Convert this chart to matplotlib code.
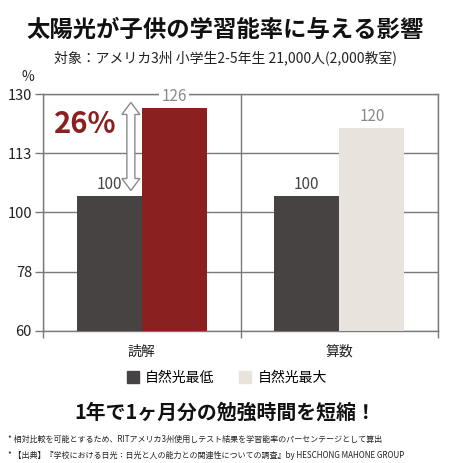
import numpy as np
import matplotlib
matplotlib.use("Agg")
from matplotlib import pyplot as plt
from matplotlib.patches import Polygon
from matplotlib.lines import Line2D

plt.rcParams['font.family'] = ['Noto Sans CJK JP', 'DejaVu Sans']

# data
categories = ["読解", "算数"]
series_names = ["自然光最低", "自然光最大"]
low_values = [100, 100]
high_values = [126, 120]
ytick_labels = ["60", "78", "100", "113", "130"]

dark = "#474343"
red = "#8a2020"
beige = "#e8e4dd"
grid_c = "#7a7a7a"

fig = plt.figure(figsize=(4.51, 4.63), dpi=100)
ax = fig.add_axes([43/451, 1-331/463, 395/451, 237/463])

x = np.arange(len(categories))
w = 0.33
ax.bar(x - w/2, low_values, w, color=dark, zorder=3)
ax.bar(x + w/2, high_values, w, color=[red, beige], zorder=3)

ax.set_ylim(60, 130)
ax.set_xlim(-0.5, 1.5)
ax.set_yticks(np.linspace(60, 130, 5))
ax.set_yticklabels(ytick_labels, fontsize=10.5, color="#222222")
ax.set_xticks(x)
ax.set_xticklabels(categories, fontsize=10, color="#222222")
ax.set_xticks([-0.5, 0.5, 1.5], minor=True)
ax.tick_params(axis="x", which="major", length=0, pad=10)
ax.tick_params(axis="x", which="minor", length=5, color=grid_c, width=1)
ax.tick_params(axis="y", length=6, color=grid_c, width=1, pad=2)
ax.grid(axis="y", color=grid_c, linewidth=1, zorder=1)
ax.grid(axis="x", which="minor", color=grid_c, linewidth=1, zorder=1)
for s in ax.spines.values():
    s.set_color(grid_c)
    s.set_linewidth(1)

# value labels
for xi, v in zip(x, low_values):
    ax.annotate(str(v), (xi - w/2, v), xytext=(0, 2), textcoords="offset points",
                ha="center", va="bottom", fontsize=11, color="#444444", zorder=5)
for xi, v in zip(x, high_values):
    ax.annotate(str(v), (xi + w/2, v), xytext=(0, 2), textcoords="offset points",
                ha="center", va="bottom", fontsize=11, color="#8a8a8a", zorder=5,
                bbox=dict(boxstyle="square,pad=0.15", fc="white", ec="none"))

# hollow double arrow between 100 and 126
ax_x = -0.055
y0 = low_values[0] + 1.5
y1 = high_values[0] + 1.5
dx_shaft = 4 / 197.5
dx_head = 9 / 197.5
hl = 12 * 70 / 237
pts = [(ax_x, y1), (ax_x + dx_head, y1 - hl), (ax_x + dx_shaft, y1 - hl),
       (ax_x + dx_shaft, y0 + hl), (ax_x + dx_head, y0 + hl), (ax_x, y0),
       (ax_x - dx_head, y0 + hl), (ax_x - dx_shaft, y0 + hl),
       (ax_x - dx_shaft, y1 - hl), (ax_x - dx_head, y1 - hl)]
ax.add_patch(Polygon(pts, closed=True, fc="white", ec="#8a8a8a", lw=1, zorder=6))

ax.text(-0.445, 121, "%d%%" % (high_values[0] - low_values[0]), fontsize=21,
        fontweight="bold", color=red, ha="left", va="center", zorder=6)

# titles
fig.text(0.5, 1-30/463, "太陽光が子供の学習能率に与える影響", ha="center", va="center",
         fontsize=16.8, fontweight="bold", color="#111111")
fig.text(0.5, 1-58/463, "対象：アメリカ3州 小学生2-5年生 21,000人(2,000教室)",
         ha="center", va="center", fontsize=10, color="#222222")
fig.text(22/451, 1-77/463, "%", ha="left", va="center", fontsize=10, color="#222222")

# legend
handles = [Line2D([], [], marker="s", ls="none", markersize=8, color=dark),
           Line2D([], [], marker="s", ls="none", markersize=8, color=beige)]
fig.legend(handles, series_names, loc="center", bbox_to_anchor=(0.5, 1-378/463),
           ncol=2, frameon=False, fontsize=10, handletextpad=0.3, columnspacing=1.6,
           handlelength=1.2)

fig.text(0.5, 1-412/463, "1年で1ヶ月分の勉強時間を短縮！", ha="center", va="center",
         fontsize=14.3, fontweight="bold", color="#111111")
fig.text(8/451, 1-439/463, "* 相対比較を可能とするため、RITアメリカ3州使用しテスト結果を学習能率のパーセンテージとして算出",
         ha="left", va="center", fontsize=5.8, color="#222222")
fig.text(8/451, 1-455/463, "* 【出典】『学校における日光：日光と人の能力との関連性についての調査』by HESCHONG MAHONE GROUP",
         ha="left", va="center", fontsize=5.8, color="#222222")

plt.savefig("out.png", dpi=100)
